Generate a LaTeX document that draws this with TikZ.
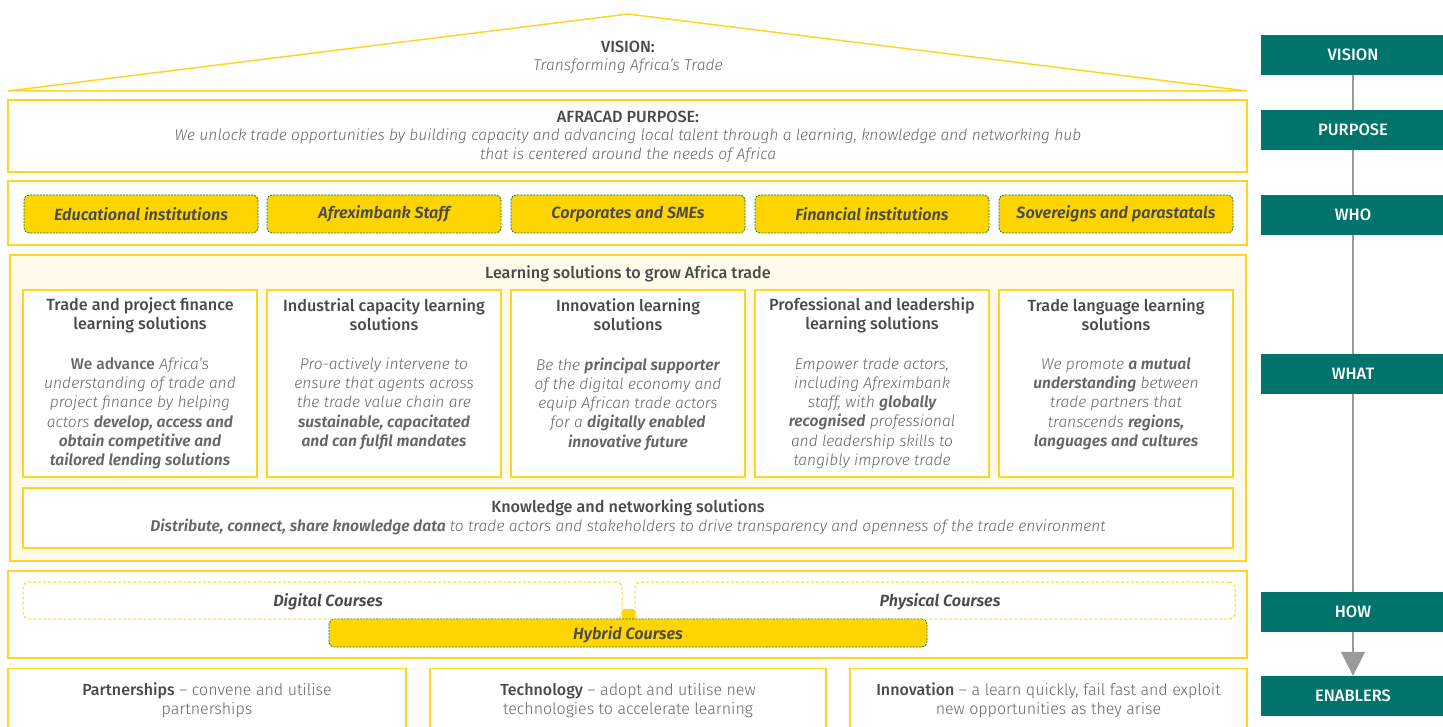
\documentclass[tikz,border=0pt]{standalone}
\usepackage{fontspec}
\setmainfont{Fira Sans}[UprightFont=* Light, ItalicFont=* Light Italic, BoldFont=* Medium, BoldItalicFont=* SemiBold Italic]
\usetikzlibrary{arrows.meta}
\definecolor{gold}{HTML}{FFD500}
\definecolor{edge}{HTML}{FFD524}
\definecolor{cream}{HTML}{FFFAEA}
\definecolor{teal}{HTML}{00736B}
\definecolor{ink}{HTML}{4A4A4A}
\definecolor{soft}{HTML}{666666}
\definecolor{rail}{HTML}{9A9A9A}
\newcommand{\bi}[1]{\textbf{\textit{#1}}}
\tikzset{
  panel/.style={draw=edge, line width=1.3pt, fill=white, inner sep=0pt},
  pill/.style={draw=teal, dashed, dash pattern=on 2pt off 1.2pt, line width=0.8pt, fill=gold, rounded corners=5pt, inner sep=0pt},
  ghost/.style={draw=edge, dashed, dash pattern=on 3pt off 2pt, line width=1pt, rounded corners=6pt, inner sep=0pt},
  tag/.style={fill=teal, text=white, minimum width=184pt, minimum height=40pt, inner sep=0pt, font=\fontsize{16.5}{18}\selectfont\bfseries},
  head/.style={text=ink, font=\fontsize{16.2}{19}\selectfont\bfseries, align=center, inner sep=0pt},
  body/.style={text=soft, font=\fontsize{15.6}{19.2}\selectfont\itshape, align=center, inner sep=0pt},
  plain/.style={text=soft, font=\fontsize{16}{19}\selectfont, align=center, inner sep=0pt},
  label/.style={text=ink, font=\fontsize{16.2}{18}\selectfont\bfseries\itshape, inner sep=0pt},
}
\begin{document}
\begin{tikzpicture}[x=1pt,y=-1pt]
\useasboundingbox (0,0) rectangle (1443,727);
\clip (0,0) rectangle (1443,727);

% roof with the vision
\draw[edge, line width=1.5pt, line join=miter] (8,91) -- (628,14) -- (1247,91) -- cycle;
\node[head] (visionhead) at (628,46.5) {VISION:};
\node[body] (visiontext) at (628,66.5) {Transforming Africa’s Trade};

% purpose
\node[panel, minimum width=1239pt, minimum height=72pt] (purpose) at (627.5,136) {};
\node[head] (purposehead) at (628,116.5) {AFRACAD PURPOSE:};
\node[body] (purposetext) at (628,145.5) {We unlock trade opportunities by building capacity and advancing local talent through a learning, knowledge and networking hub\\that is centered around the needs of Africa};

% who
\node[panel, minimum width=1239pt, minimum height=64pt] (who) at (627.5,213) {};
\foreach \cx/\nm/\txt in {141/w1/Educational institutions, 384/w2/Afreximbank Staff, 628/w3/Corporates and SMEs, 872/w4/Financial institutions, 1116/w5/Sovereigns and parastatals}
  \node[pill, minimum width=234pt, minimum height=38pt, label] (\nm) at (\cx,214) {\txt};

% what: learning solutions
\node[panel, fill=cream, minimum width=1236pt, minimum height=306pt] (what) at (628,408) {};
\node[head] (whathead) at (628,273.5) {Learning solutions to grow Africa trade};
\foreach \cx/\nm in {140/s1, 384/s2, 628/s3, 872/s4, 1116/s5}
  \node[panel, minimum width=234pt, minimum height=187pt] (\nm) at (\cx,383.5) {};

\node[head] (s1h) at (140,315) {Trade and project finance\\learning solutions};
\node[body, anchor=north] (s1b) at (140,357.5) {\textbf{\upshape We advance} Africa’s\\understanding of trade and\\project finance by helping\\actors \bi{develop, access and}\\\bi{obtain competitive and}\\\bi{tailored lending solutions}};

\node[head] (s2h) at (384,315) {Industrial capacity learning\\solutions};
\node[body, anchor=north] (s2b) at (384,357.5) {Pro-actively intervene to\\ensure that agents across\\the trade value chain are\\\bi{sustainable, capacitated}\\\bi{and can fulfil mandates}};

\node[head] (s3h) at (628,315) {Innovation learning\\solutions};
\node[body, anchor=north] (s3b) at (628,357.5) {Be the \bi{principal supporter}\\of the digital economy and\\equip African trade actors\\for a \bi{digitally enabled}\\\bi{innovative future}};

\node[head] (s4h) at (872,315) {Professional and leadership\\learning solutions};
\node[body, anchor=north] (s4b) at (872,357.5) {Empower trade actors,\\including Afreximbank\\staff, with \bi{globally}\\\bi{recognised} professional\\and leadership skills to\\tangibly improve trade};

\node[head] (s5h) at (1116,315) {Trade language learning\\solutions};
\node[body, anchor=north] (s5b) at (1116,357.5) {We promote \bi{a mutual}\\\bi{understanding} between\\trade partners that\\transcends \bi{regions,}\\\bi{languages and cultures}};

\node[panel, minimum width=1210pt, minimum height=60pt] (knowledge) at (628,518) {};
\node[head] (knowhead) at (628,507.5) {Knowledge and networking solutions};
\node[body] (knowtext) at (628,526.5) {\bi{Distribute, connect, share knowledge data} to trade actors and stakeholders to drive transparency and openness of the trade environment};

% how: delivery modes
\node[panel, minimum width=1239pt, minimum height=87pt] (how) at (627.5,614.5) {};
\fill[gold] (622,619) -- (622,611) -- (624,609) -- (633,609) -- (635,611) -- (635,619) -- cycle;
\node[pill, minimum width=598pt, minimum height=28pt] (hybrid) at (628,633) {};
\fill[gold] (331,620) rectangle (925,626);
\node[ghost, minimum width=599pt, minimum height=37pt] (digital) at (322.5,600.5) {};
\node[ghost, minimum width=600pt, minimum height=37pt] (physical) at (935,600.5) {};
\node[label] (digitaltxt) at (328,601.5) {Digital Courses};
\node[label] (physicaltxt) at (940,601.5) {Physical Courses};
\node[label] (hybridtxt) at (628,634.5) {Hybrid Courses};

% enablers
\node[panel, minimum width=398pt, minimum height=80pt, anchor=north] (e1) at (207,668) {};
\node[panel, minimum width=396pt, minimum height=80pt, anchor=north] (e2) at (628,668) {};
\node[panel, minimum width=397pt, minimum height=80pt, anchor=north] (e3) at (1048.5,668) {};
\node[plain] (e1t) at (207,700.5) {\textbf{\color{ink}Partnerships} – convene and utilise\\partnerships};
\node[plain] (e2t) at (628,700.5) {\textbf{\color{ink}Technology} – adopt and utilise new\\technologies to accelerate learning};
\node[plain] (e3t) at (1048.5,700.5) {\textbf{\color{ink}Innovation} – a learn quickly, fail fast and exploit\\new opportunities as they arise};

% right-hand rail
\node[tag] (tvision) at (1353,55) {VISION};
\node[tag] (tpurpose) at (1353,130) {PURPOSE};
\node[tag] (twho) at (1353,215) {WHO};
\node[tag] (twhat) at (1353,374) {WHAT};
\node[tag] (thow) at (1353,612) {HOW};
\node[tag] (tenablers) at (1353,696) {ENABLERS};
\draw[rail, line width=1.2pt] (tvision) -- (tpurpose);
\draw[rail, line width=1.2pt] (tpurpose) -- (twho);
\draw[rail, line width=1.2pt] (twho) -- (twhat);
\draw[rail, line width=1.2pt] (twhat) -- (thow);
\draw[rail, line width=1.2pt, -{Triangle[width=24pt,length=24pt]}] (thow) -- (tenablers);
\end{tikzpicture}
\end{document}
